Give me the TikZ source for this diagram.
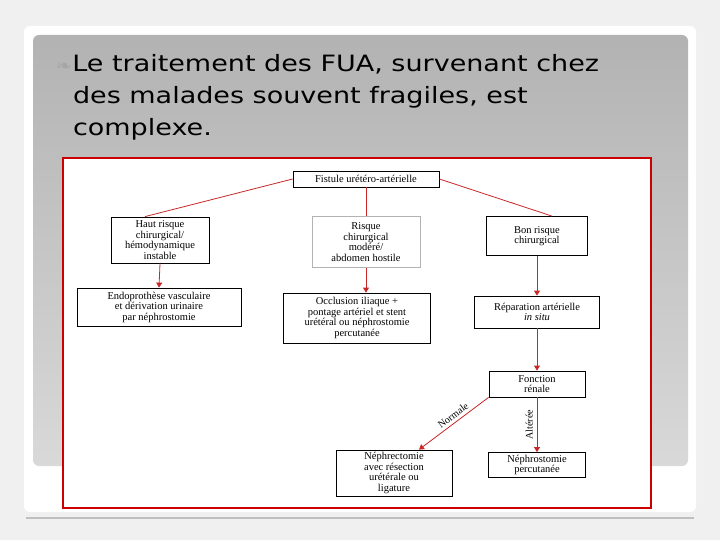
\documentclass[tikz,border=0pt]{standalone}
\usepackage{fontspec}
\setmainfont{Liberation Serif}
\newfontfamily\titlefont{DejaVu Sans}
\newfontfamily\symfont{DejaVu Sans}
\usetikzlibrary{positioning,arrows.meta}
\definecolor{linkred}{RGB}{200,40,40}
\begin{document}
\begin{tikzpicture}[x=1pt,y=-1pt,>=Latex]
\tikzset{
  box/.style={draw, thick, fill=white, align=center, font=\fontsize{10.5}{10.5}\selectfont, inner sep=1pt},
  link/.style={draw=linkred, line width=0.8pt},
  arr/.style={link, ->, >={Triangle[length=5pt,width=6pt]}},
  edgelabel/.style={font=\fontsize{10}{10}\selectfont, inner sep=1pt}
}
% slide background
\useasboundingbox (0,0) rectangle (720,540);
\fill[gray!12] (0,0) rectangle (720,540);
\fill[white, rounded corners=6pt] (24,26) rectangle (696,512);
\shade[top color=gray!60, bottom color=gray!30, rounded corners=6pt] (33,35) rectangle (688,466);
\draw[gray!50, line width=1.5pt] (26,518) -- (694,518);
% title
\node[anchor=north west, align=left, xscale=1.2, font=\titlefont\fontsize{22.5}{32}\selectfont, inner sep=0pt] (title) at (56,54)
  {{\symfont\color{gray!70}\fontsize{16}{16}\selectfont ❧}Le traitement des FUA, survenant chez\\
   \hspace*{14pt}des malades souvent fragiles, est\\
   \hspace*{14pt}complexe.};
% diagram frame
\draw[fill=white, draw=red!80!black, line width=1.5pt] (63,158) rectangle (651,508);
% nodes
\node[box, minimum width=146pt, minimum height=16pt] (fistule) at (366,179) {Fistule urétéro-artérielle};
\node[box, minimum width=98pt, minimum height=46pt] (haut) at (160,240) {Haut risque\\chirurgical/\\hémodynamique\\instable};
\node[box, draw=gray!60, minimum width=108pt, minimum height=51pt] (modere) at (366,242) {Risque\\chirurgical\\modéré/\\abdomen hostile};
\node[box, minimum width=101pt, minimum height=39pt] (bon) at (537,236) {Bon risque\\chirurgical};
\node[box, minimum width=164pt, minimum height=38pt] (endo) at (159,307) {Endoprothèse vasculaire\\et dérivation urinaire\\par néphrostomie};
\node[box, minimum width=147pt, minimum height=50pt] (occlusion) at (357,318) {Occlusion iliaque +\\pontage artériel et stent\\urétéral ou néphrostomie\\percutanée};
\node[box, minimum width=125pt, minimum height=32pt] (reparation) at (537,312) {Réparation artérielle\\\textit{in situ}};
\node[box, minimum width=96pt, minimum height=26pt] (fonction) at (537,384) {Fonction\\rénale};
\node[box, minimum width=116pt, minimum height=46pt] (nephrectomie) at (394,473) {Néphrectomie\\avec résection\\urétérale ou\\ligature};
\node[box, minimum width=97pt, minimum height=25pt] (nephrostomie) at (537,465) {Néphrostomie\\percutanée};
% connectors
\draw[link] (fistule.west) -- ([xshift=-15pt]haut.north);
\draw[link, line width=0.4pt] (fistule.south) -- (modere.north);
\draw[link] (fistule.east) -- ([xshift=15pt]bon.north);
\draw[arr] (haut.south) -- (endo.north);
\draw[arr] (modere.south) -- ([xshift=9pt]occlusion.north);
\draw[arr] (bon.south) -- (reparation.north);
\draw[arr] (reparation.south) -- (fonction.north);
\draw[arr] (fonction.south west) -- node[sloped, pos=0.45, above=2pt, edgelabel] {Normale} ([xshift=25pt]nephrectomie.north);
\draw[arr] (fonction.south) -- node[rotate=90, left=3pt, anchor=south, edgelabel] {Altérée} (nephrostomie.north);
\end{tikzpicture}
\end{document}
